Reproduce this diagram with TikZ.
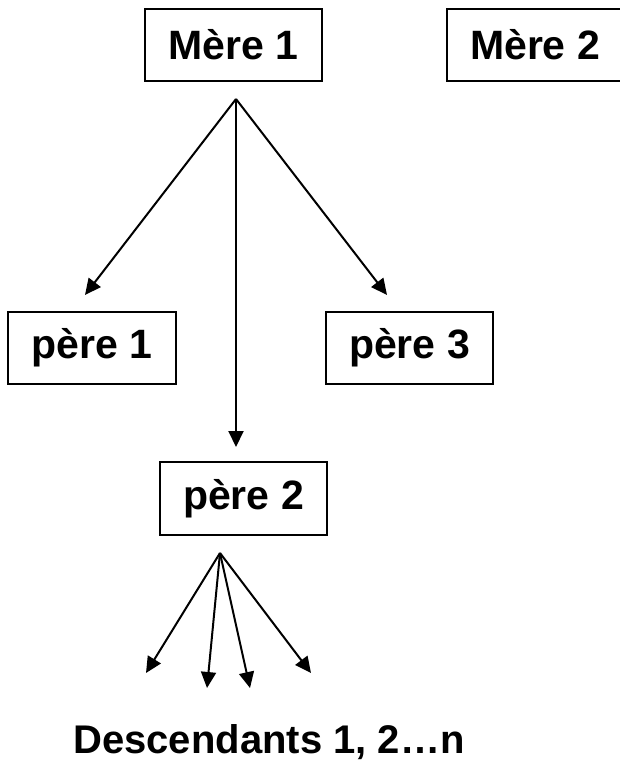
\documentclass[tikz,border=0pt]{standalone}
\usepackage{fontspec}
\setmainfont{Liberation Sans}
\usetikzlibrary{arrows.meta}
\begin{document}
\begin{tikzpicture}[x=1pt,y=-1pt,
  box/.style={draw, line width=2.3pt, rectangle, inner sep=0pt,
    font=\fontsize{41}{48}\selectfont\bfseries},
  link/.style={line width=2pt, -{Triangle[length=16pt,width=15pt]}},
  label/.style={font=\fontsize{40}{48}\selectfont\bfseries, inner sep=0pt}]
\useasboundingbox (0,0) rectangle (619,760);
% mothers
\node[box, minimum width=177pt, minimum height=72pt] (m1) at (233.5,45) {Mère 1};
\node[box, minimum width=176pt, minimum height=72pt] (m2) at (535,45) {Mère 2};
% fathers
\node[box, minimum width=168pt, minimum height=72pt] (p1) at (92,348) {père 1};
\node[box, minimum width=167pt, minimum height=72pt] (p3) at (409.5,348) {père 3};
\node[box, minimum width=167pt, minimum height=73pt] (p2) at (243.5,498.5) {père 2};
% descendants
\node[label, anchor=base] (desc) at (269,753) {Descendants 1, 2…n};
% hubs and arrow tips
\coordinate (h1) at (236,99);
\coordinate (t1) at (85,295);
\coordinate (t2) at (236,447);
\coordinate (t3) at (387,295);
\coordinate (h2) at (220,553);
\coordinate (d1) at (146,673);
\coordinate (d2) at (207,688);
\coordinate (d3) at (250,688);
\coordinate (d4) at (311,673);
\draw[link] (h1) -- (t1);
\draw[link] (h1) -- (t2);
\draw[link] (h1) -- (t3);
\draw[link] (h2) -- (d1);
\draw[link] (h2) -- (d2);
\draw[link] (h2) -- (d3);
\draw[link] (h2) -- (d4);
\end{tikzpicture}
\end{document}
